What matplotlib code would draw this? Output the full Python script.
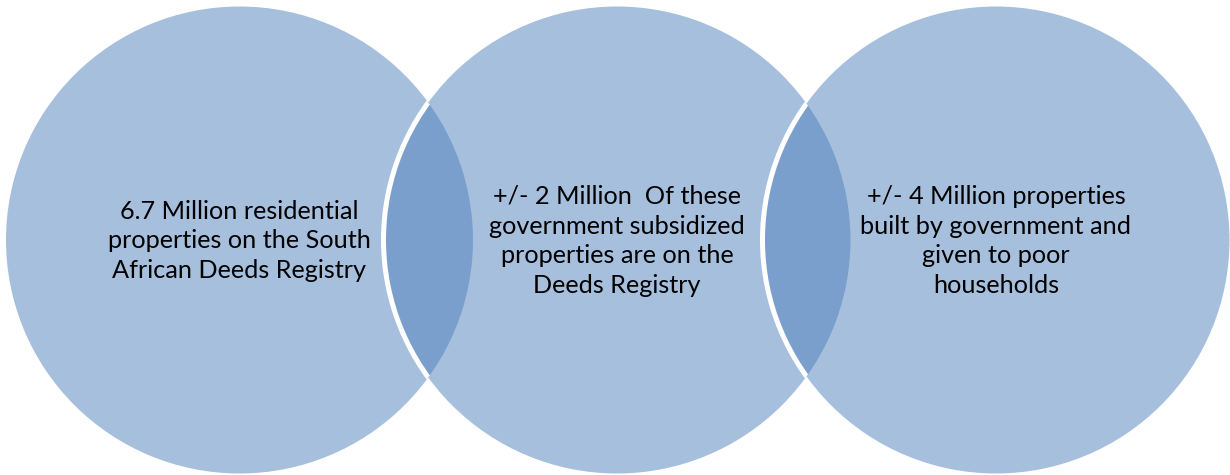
import matplotlib.pyplot as plt
from matplotlib.patches import Circle

# texto de cada círculo
labels = [
    "6.7 Million residential\nproperties on the South\nAfrican Deeds Registry",
    "+/- 2 Million  Of these\ngovernment subsidized\nproperties are on the\nDeeds Registry",
    "+/- 4 Million properties\nbuilt by government and\ngiven to poor\nhouseholds",
]

# layout em pixels
centers_x = [239.5, 617, 996]
center_y = 240
radius = 233.5
fill = '#4F81BD'

fig = plt.figure(figsize=(12.3, 4.75), dpi=100)
ax = fig.add_axes([0, 0, 1, 1])
ax.set_xlim(0, 1230)
ax.set_ylim(475, 0)
ax.set_aspect('equal')
ax.axis('off')

circles = []
for cx in centers_x:
    c = Circle((cx, center_y), radius, facecolor=fill, alpha=0.5, edgecolor='none', zorder=1)
    ax.add_patch(c)
    circles.append(c)

# contorno branco só onde o círculo seguinte fica por cima do anterior
for i in range(1, len(centers_x)):
    edge = Circle((centers_x[i], center_y), radius, facecolor='none',
                  edgecolor='white', linewidth=3.6, zorder=2)
    ax.add_patch(edge)
    edge.set_clip_path(circles[i - 1])

for cx, txt in zip(centers_x, labels):
    ax.text(cx, center_y + 1, txt, ha='center', va='center', fontsize=18.2,
            family='Lato', linespacing=1.36, color='black', zorder=3)

plt.savefig('out.png', dpi=100)
